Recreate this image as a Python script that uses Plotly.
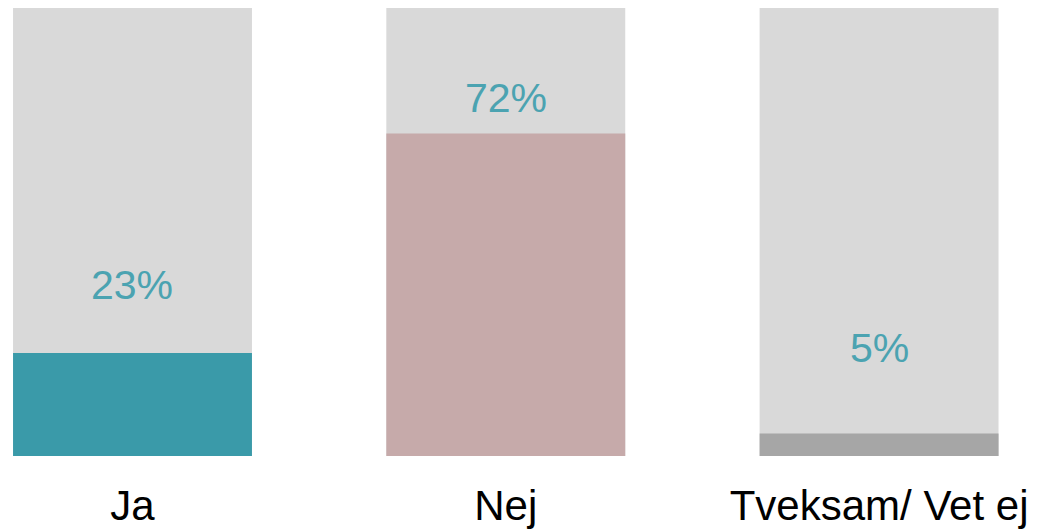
import plotly.graph_objects as go

# answers and shares (percent)
categories = ["Ja", "Nej", "Tveksam/ Vet ej"]
shares = [23, 72, 5]
totals = [100, 100, 100]
bar_colors = ["#3A9AA9", "#C6AAAA", "#A6A6A6"]

# where the percentage labels sit, in value units
label_pos = [38.2, 80.0, 24.1]

fig = go.Figure()

# grey full-height backdrop bars
fig.add_trace(go.Bar(
    x=categories, y=totals, marker_color="#D9D9D9",
    marker_line_width=0, width=0.64, hoverinfo="skip", showlegend=False
))

# the actual shares
fig.add_trace(go.Bar(
    x=categories, y=shares, marker_color=bar_colors,
    marker_line_width=0, width=0.64, showlegend=False
))

for cat, val, ypos in zip(categories, shares, label_pos):
    fig.add_annotation(
        x=cat, y=ypos, text=f"{val}%", showarrow=False,
        font=dict(family="Liberation Sans", size=41, color="#4BA3B1"),
        xanchor="center", yanchor="middle"
    )

# page body adds an 8px offset, so the plot area is shifted to compensate
fig.update_layout(
    width=1037, height=523,
    barmode="overlay",
    margin=dict(l=0, r=0, t=0, b=75),
    paper_bgcolor="white", plot_bgcolor="white",
    font=dict(family="Liberation Sans", color="black"),
    xaxis=dict(
        range=[-0.3335, 2.4445], showgrid=False, zeroline=False, showline=False,
        ticks="", tickfont=dict(size=42, color="black"), ticklabelstandoff=21
    ),
    yaxis=dict(range=[0, 100], visible=False),
)

fig.write_html("out.html")
